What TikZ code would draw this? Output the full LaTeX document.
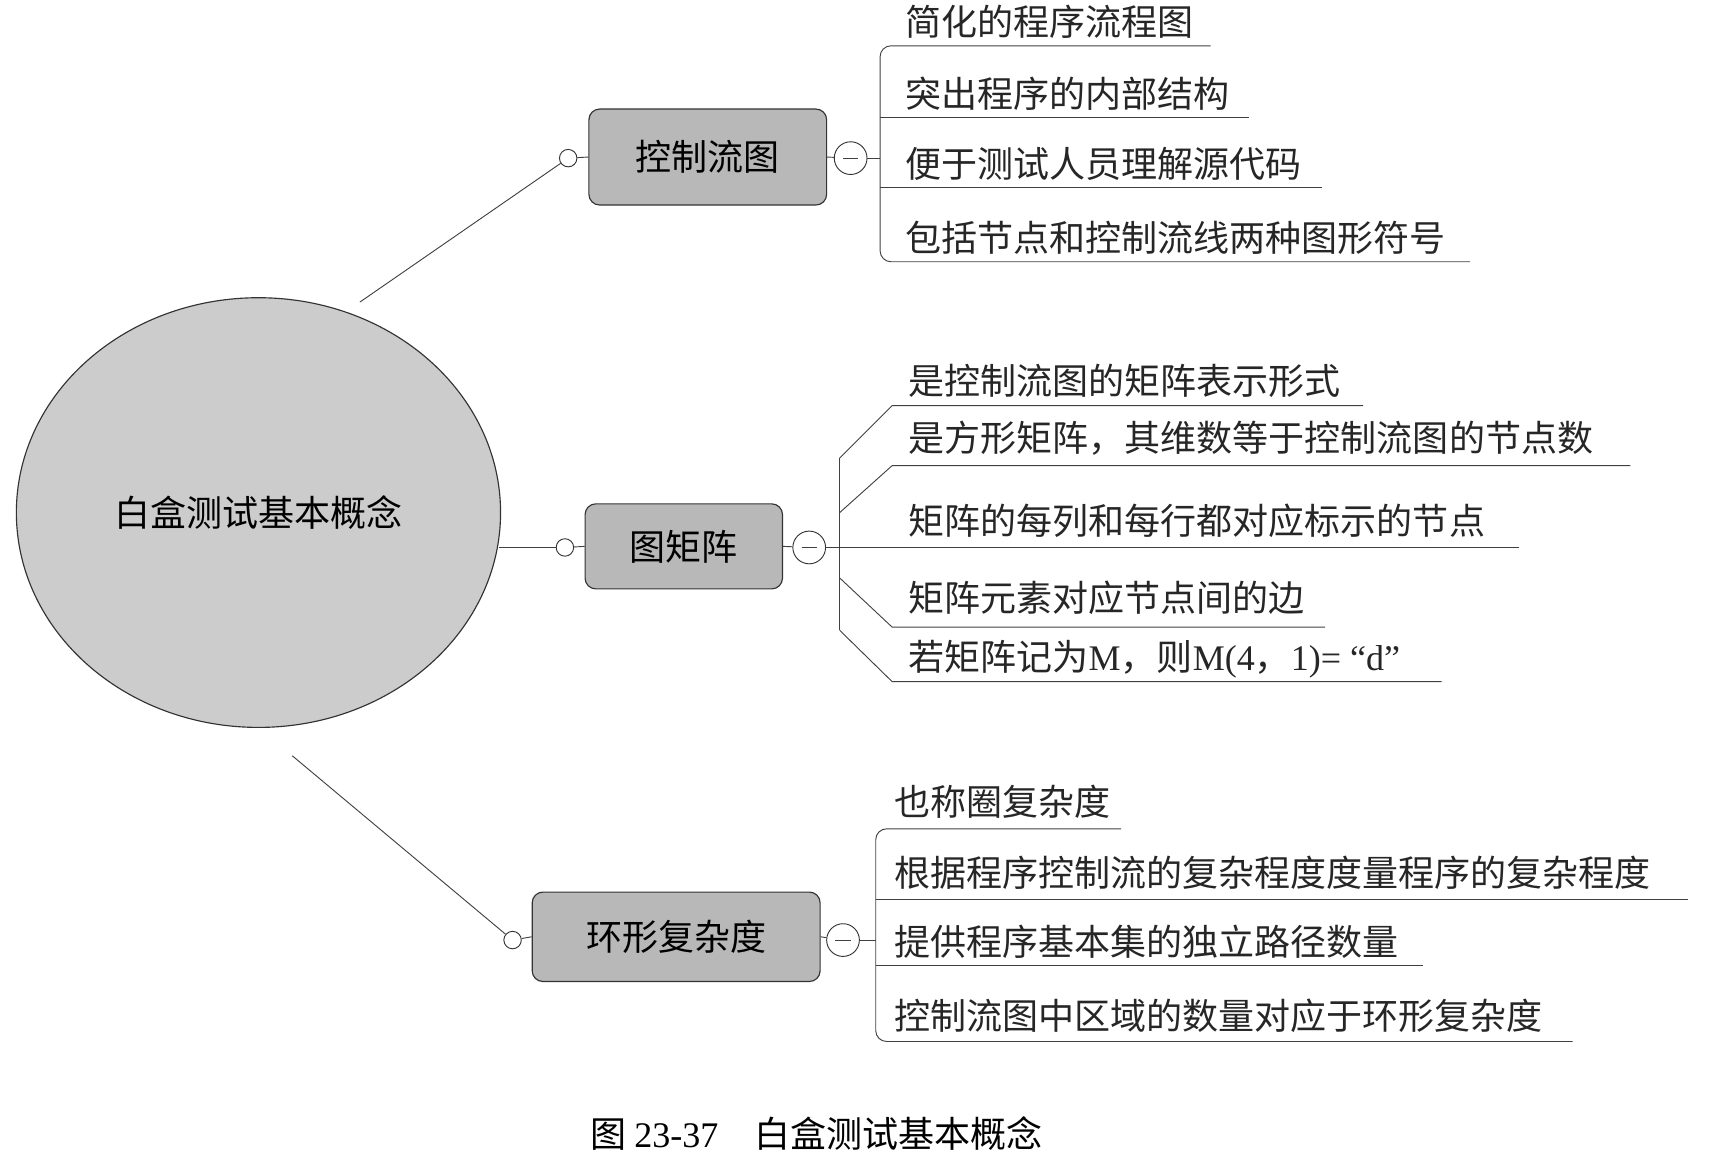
\documentclass[tikz,border=0pt]{standalone}
\usepackage{fontspec}
\usetikzlibrary{shapes.geometric}
\setmainfont{Liberation Serif}
\newfontfamily\cjk{Noto Sans CJK SC}
\begin{document}
\begin{tikzpicture}[x=0.05cm,y=-0.05cm,
  every node/.style={font=\cjk\fontsize{47}{52}\selectfont},
  ln/.style={line width=1.2pt, draw=black!75},
  boxst/.style={draw=black!80, line width=1.5pt, rounded corners=14pt, fill=black!28, inner sep=0pt},
  dotc/.style={circle, draw=black!80, line width=1.2pt, fill=white, minimum size=0.8cm, inner sep=0pt},
  minc/.style={circle, draw=black!80, line width=1.2pt, fill=white, minimum size=1.5cm, inner sep=0pt},
  item/.style={anchor=base west, inner sep=0pt, text=black!85}]
\useasboundingbox (0,0) rectangle (1568,1060);
% central ellipse
\node[ellipse, draw=black!80, line width=1.5pt, fill=black!20, minimum width=444*0.05cm, minimum height=394*0.05cm, inner sep=0pt] (c) at (237,470) {};
\node at (c.center) {白盒测试基本概念};
% branch 1
\node[dotc] (d1) at (521,145) {};
\node[boxst, minimum width=218*0.05cm, minimum height=88*0.05cm] (b1) at (649,144) {控制流图};
\node[minc] (m1) at (780,145) {};
\draw[ln] (773,145) -- (787,145);
\draw[ln] (330,277) -- (d1);
\draw[ln] (d1) -- (b1.west);
\draw[ln] (b1.east) -- (m1);
\coordinate (j1) at (807,145);
\draw[ln] (m1) -- (j1);
\draw[ln] (1110,42) -- (817,42) to[out=180,in=90] (807,52) -- (807,230) to[out=-90,in=180] (817,240) -- (1348,240);
\draw[ln] (807,108) -- (1145,108);
\draw[ln] (807,172) -- (1212,172);
\node[item] at (830,33) {简化的程序流程图};
\node[item] at (830,99) {突出程序的内部结构};
\node[item] at (830,163) {便于测试人员理解源代码};
\node[item] at (830,231) {包括节点和控制流线两种图形符号};
% branch 2
\node[dotc] (d2) at (518,502) {};
\node[boxst, minimum width=181*0.05cm, minimum height=78*0.05cm] (b2) at (627,501) {图矩阵};
\node[minc] (m2) at (742,502) {};
\draw[ln] (735,502) -- (749,502);
\draw[ln] (458,502) -- (d2);
\draw[ln] (d2) -- (b2.west);
\draw[ln] (b2.east) -- (m2);
\draw[ln] (m2) -- (1393,502);
\draw[ln] (770,420) -- (770,578);
\draw[ln] (770,420) -- (818,372) -- (1250,372);
\draw[ln] (770,470) -- (818,427) -- (1495,427);
\draw[ln] (770,530) -- (818,575) -- (1215,575);
\draw[ln] (770,578) -- (818,625) -- (1322,625);
\node[item] at (833,362) {是控制流图的矩阵表示形式};
\node[item] at (833,414) {是方形矩阵，其维数等于控制流图的节点数};
\node[item] at (833,490) {矩阵的每列和每行都对应标示的节点};
\node[item] at (833,561) {矩阵元素对应节点间的边};
\node[item] at (833,615) {若矩阵记为\fontspec{Liberation Serif}M\cjk，则\fontspec{Liberation Serif}M(4\cjk，\fontspec{Liberation Serif}1)= “d”};
% branch 3
\node[dotc] (d3) at (470,862) {};
\node[boxst, minimum width=264*0.05cm, minimum height=82*0.05cm] (b3) at (620,859) {环形复杂度};
\node[minc] (m3) at (773,862) {};
\draw[ln] (766,862) -- (780,862);
\draw[ln] (268,693) -- (d3);
\draw[ln] (d3) -- (b3.west);
\draw[ln] (b3.east) -- (m3);
\coordinate (j3) at (803,862);
\draw[ln] (m3) -- (j3);
\draw[ln] (1028,760) -- (813,760) to[out=180,in=90] (803,770) -- (803,945) to[out=-90,in=180] (813,955) -- (1442,955);
\draw[ln] (803,825) -- (1548,825);
\draw[ln] (803,885) -- (1305,885);
\node[item] at (820,748) {也称圈复杂度};
\node[item] at (820,813) {根据程序控制流的复杂程度度量程序的复杂程度};
\node[item] at (820,876) {提供程序基本集的独立路径数量};
\node[item] at (820,944) {控制流图中区域的数量对应于环形复杂度};
% caption
\node[anchor=base west, inner sep=0pt] (cap) at (541,1052) {图 \fontspec{Liberation Serif}23-37\cjk\quad 白盒测试基本概念};
\end{tikzpicture}
\end{document}
